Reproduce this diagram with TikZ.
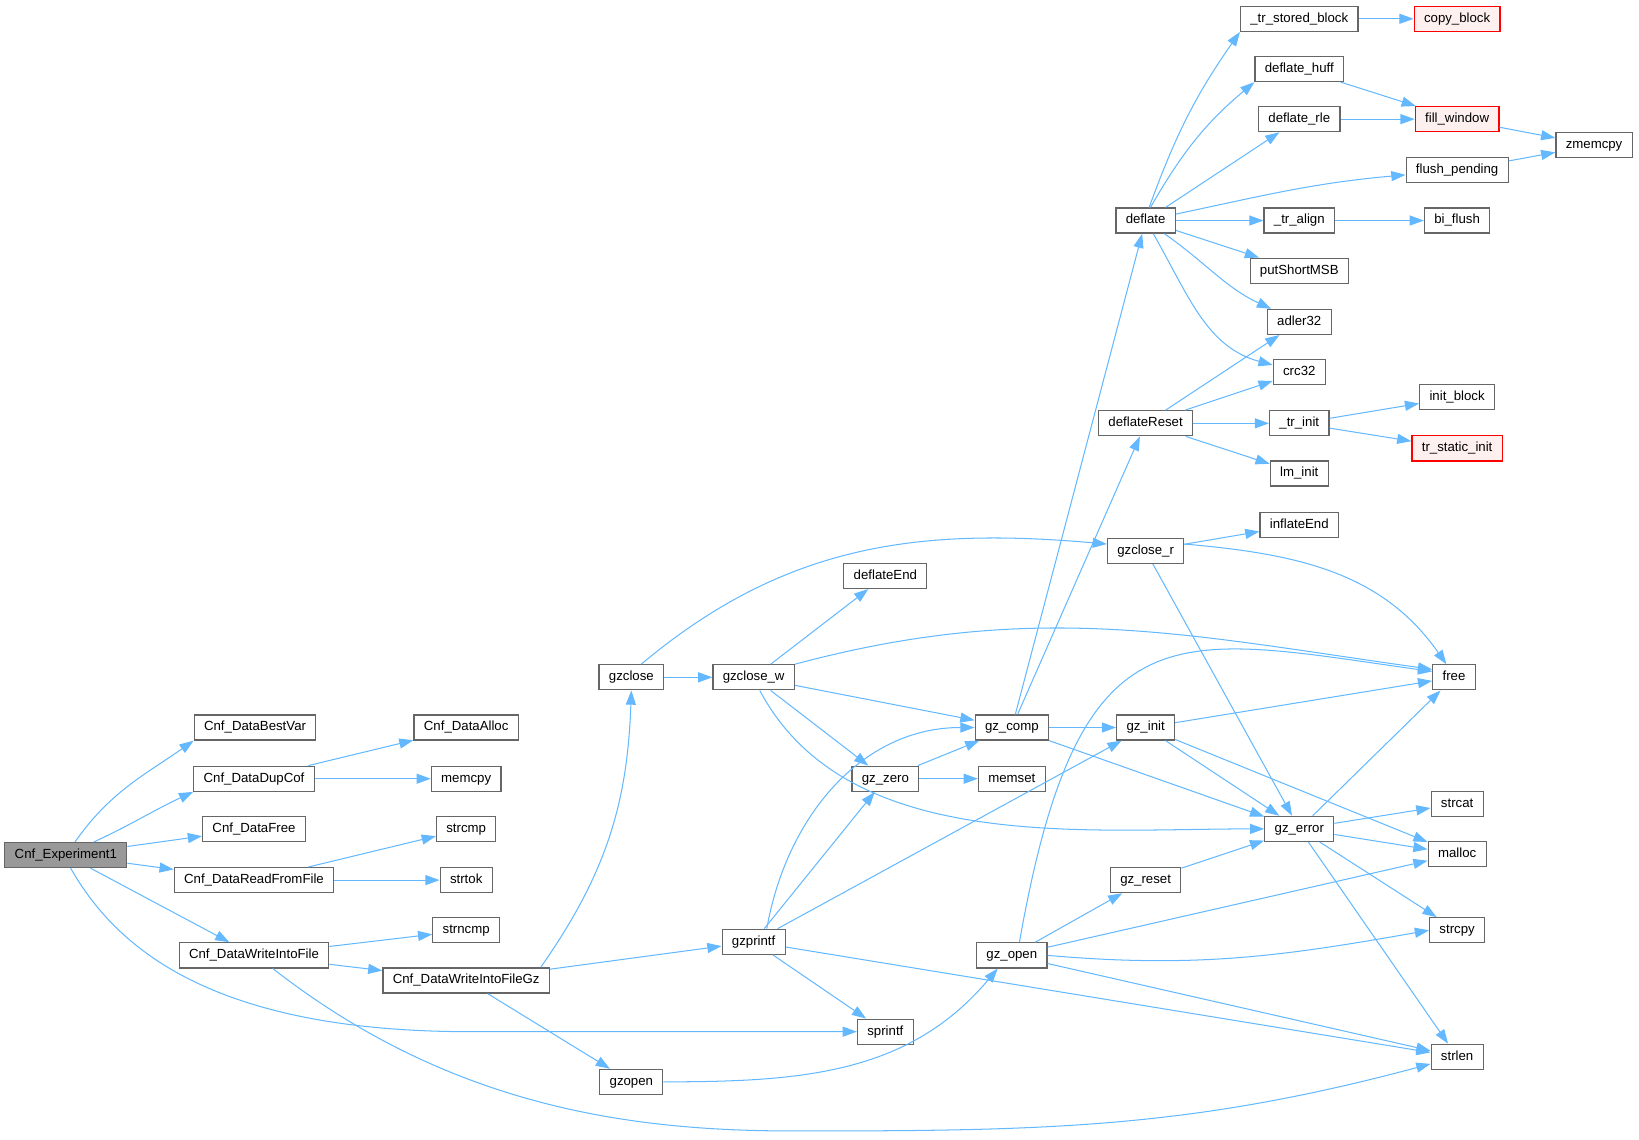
\documentclass[tikz,border=0pt]{standalone}
\usepackage{fontspec}
\setmainfont{Liberation Sans}
\usepackage{xcolor}
\usepackage{tikz}
\usetikzlibrary{arrows.meta,calc}
\definecolor{edgeblue}{HTML}{63B8FF}
\definecolor{boxgray}{HTML}{666666}
\definecolor{rootgray}{HTML}{999999}
\definecolor{redfill}{HTML}{FFF0F0}
\begin{document}
\begin{tikzpicture}[
  x=0.025cm,y=0.025cm,
  fnbox/.style  ={rectangle,draw=boxgray,fill=white,line width=0.8pt,
                  minimum height=0.6cm,inner xsep=6.7pt,inner ysep=0pt,
                  text height=6.6pt,text depth=1.9pt,font=\fontsize{9}{10}\selectfont},
  rootbox/.style={fnbox,fill=rootgray},
  redbox/.style ={fnbox,draw=red,fill=redfill},
  callarrow/.style={-{Triangle[length=3.4mm,width=2.4mm]},draw=edgeblue,line width=0.7pt},
]
\useasboundingbox (0,0) rectangle (1568,1090);
\node[rootbox] (exp1)     at (63,272)    {Cnf\_Experiment1};
\node[fnbox]   (bestvar)  at (244,394)   {Cnf\_DataBestVar};
\node[fnbox]   (dupcof)   at (243,345)   {Cnf\_DataDupCof};
\node[fnbox]   (dfree)    at (243,297)   {Cnf\_DataFree};
\node[fnbox]   (readff)   at (243,248)   {Cnf\_DataReadFromFile};
\node[fnbox]   (writeif)  at (243,176)   {Cnf\_DataWriteIntoFile};
\node[fnbox]   (dalloc)   at (446,394)   {Cnf\_DataAlloc};
\node[fnbox]   (memcpy)   at (446,345)   {memcpy};
\node[fnbox]   (strcmp)   at (446,297)   {strcmp};
\node[fnbox]   (strtok)   at (446,248)   {strtok};
\node[fnbox]   (strncmp)  at (446,200)   {strncmp};
\node[fnbox]   (writegz)  at (446,152)   {Cnf\_DataWriteIntoFileGz};
\node[fnbox]   (gzclose)  at (604,442)   {gzclose};
\node[fnbox]   (gzopen)   at (604,55)    {gzopen};
\node[fnbox]   (gzclosew) at (721,442)   {gzclose\_w};
\node[fnbox]   (gzprintf) at (721,189)   {gzprintf};
\node[fnbox]   (defend)   at (847,539)   {deflateEnd};
\node[fnbox]   (gzzero)   at (847,345)   {gz\_zero};
\node[fnbox]   (sprintf)  at (847,103)   {sprintf};
\node[fnbox]   (gzcomp)   at (968,394)   {gz\_comp};
\node[fnbox]   (memset)   at (968,345)   {memset};
\node[fnbox]   (gzopenr)  at (968,176)   {gz\_open};
\node[fnbox]   (deflate)  at (1096,879)  {deflate};
\node[fnbox]   (defreset) at (1096,685)  {deflateReset};
\node[fnbox]   (gzcloser) at (1096,563)  {gzclose\_r};
\node[fnbox]   (gzinit)   at (1096,394)  {gz\_init};
\node[fnbox]   (gzreset)  at (1096,248)  {gz\_reset};
\node[fnbox]   (trstored) at (1243,1072) {\_tr\_stored\_block};
\node[fnbox]   (defhuff)  at (1243,1024) {deflate\_huff};
\node[fnbox]   (defrle)   at (1243,976)  {deflate\_rle};
\node[fnbox]   (tralign)  at (1243,879)  {\_tr\_align};
\node[fnbox]   (putmsb)   at (1243,831)  {putShortMSB};
\node[fnbox]   (adler)    at (1243,782)  {adler32};
\node[fnbox]   (crc)      at (1243,734)  {crc32};
\node[fnbox]   (trinit)   at (1243,685)  {\_tr\_init};
\node[fnbox]   (lminit)   at (1243,637)  {lm\_init};
\node[fnbox]   (infend)   at (1243,588)  {inflateEnd};
\node[fnbox]   (gzerror)  at (1243,297)  {gz\_error};
\node[redbox]  (copyblk)  at (1394,1072) {copy\_block};
\node[redbox]  (fillwin)  at (1394,976)  {fill\_window};
\node[fnbox]   (flushp)   at (1394,927)  {flush\_pending};
\node[fnbox]   (biflush)  at (1394,879)  {bi\_flush};
\node[fnbox]   (initblk)  at (1394,710)  {init\_block};
\node[redbox]  (trstatic) at (1394,661)  {tr\_static\_init};
\node[fnbox]   (free)     at (1391,442)  {free};
\node[fnbox]   (strcat)   at (1394,321)  {strcat};
\node[fnbox]   (malloc)   at (1394,273)  {malloc};
\node[fnbox]   (strcpy)   at (1394,200)  {strcpy};
\node[fnbox]   (strlen)   at (1394,79)   {strlen};
\node[fnbox]   (zmemcpy)  at (1525,951)  {zmemcpy};
\draw[callarrow](exp1.55) to[out=55,in=215] (bestvar.south west);
\draw[callarrow](exp1.25) to[out=25,in=205] (dupcof.south west);
\draw[callarrow](exp1)--(dfree);
\draw[callarrow](exp1)--(readff);
\draw[callarrow](exp1)--(writeif);
\draw[callarrow](exp1.-70) .. controls (110,185) and (200,103) .. (450,103) -- (sprintf.west);
\draw[callarrow](dupcof)--(dalloc);
\draw[callarrow](dupcof)--(memcpy);
\draw[callarrow](readff)--(strcmp);
\draw[callarrow](readff)--(strtok);
\draw[callarrow](writeif)--(strncmp);
\draw[callarrow](writeif)--(writegz);
\draw[callarrow](writeif.-35) to[out=-38,in=180,out distance=156pt,in distance=107pt] (760,8)
                 to[out=0,in=195] (strlen.195);
\draw[callarrow](writegz.10) to[out=55,in=-92] (gzclose.south);
\draw[callarrow](writegz)--(gzprintf);
\draw[callarrow](writegz)--(gzopen);
\draw[callarrow](gzclose)--(gzclosew);
\draw[callarrow](gzclose.53) to[out=40,in=175] (gzcloser.170);
\draw[callarrow](gzclosew)--(defend);
\draw[callarrow](gzclosew.north east) to[out=15,in=172] (free.160);
\draw[callarrow](gzclosew)--(gzcomp);
\draw[callarrow](gzclosew)--(gzzero);
\draw[callarrow](gzclosew.-65) to[out=-62,in=180,looseness=0.9] (gzerror.west);
\draw[callarrow](gzprintf.45) to[out=80,in=180] (gzcomp.west);
\draw[callarrow](gzprintf)--(gzzero);
\draw[callarrow](gzprintf)--(gzinit);
\draw[callarrow](gzprintf)--(sprintf);
\draw[callarrow](gzprintf)--(strlen);
\draw[callarrow](gzopen.east) to[out=0,in=-130] (gzopenr.-137);
\draw[callarrow](gzzero)--(gzcomp);
\draw[callarrow](gzzero)--(memset);
\draw[callarrow](gzcomp)--(deflate);
\draw[callarrow](gzcomp)--(defreset);
\draw[callarrow](gzcomp)--(gzinit);
\draw[callarrow](gzcomp)--(gzerror);
\draw[callarrow](gzopenr.60) to[out=80,in=172,out distance=235pt,in distance=178pt] (free.165);
\draw[callarrow](gzopenr)--(gzreset);
\draw[callarrow](gzopenr)--(malloc);
\draw[callarrow](gzopenr.east) to[out=-5,in=190] (strcpy.west);
\draw[callarrow](gzopenr)--(strlen);
\draw[callarrow](gzinit)--(free);
\draw[callarrow](gzinit)--(gzerror);
\draw[callarrow](gzinit)--(malloc);
\draw[callarrow](gzreset)--(gzerror);
\draw[callarrow](gzcloser)--(infend);
\draw[callarrow](gzcloser.10) to[out=-5,in=125] (free.120);
\draw[callarrow](gzcloser)--(gzerror);
\draw[callarrow](deflate.75) to[out=70,in=235] (trstored.south west);
\draw[callarrow](deflate.70) to[out=60,in=220] (defhuff.south west);
\draw[callarrow](deflate)--(defrle);
\draw[callarrow](deflate) to[out=12,in=185] (flushp);
\draw[callarrow](deflate)--(tralign);
\draw[callarrow](deflate)--(putmsb);
\draw[callarrow](deflate) to[out=-35,in=155] (adler);
\draw[callarrow](deflate) to[out=-60,in=165] (crc);
\draw[callarrow](defreset)--(adler);
\draw[callarrow](defreset)--(crc);
\draw[callarrow](defreset)--(trinit);
\draw[callarrow](defreset)--(lminit);
\draw[callarrow](trstored)--(copyblk);
\draw[callarrow](defhuff)--(fillwin);
\draw[callarrow](defrle)--(fillwin);
\draw[callarrow](fillwin)--(zmemcpy);
\draw[callarrow](flushp)--(zmemcpy);
\draw[callarrow](tralign)--(biflush);
\draw[callarrow](trinit)--(initblk);
\draw[callarrow](trinit)--(trstatic);
\draw[callarrow](gzerror)--(free);
\draw[callarrow](gzerror)--(strcat);
\draw[callarrow](gzerror)--(malloc);
\draw[callarrow](gzerror)--(strcpy);
\draw[callarrow](gzerror)--(strlen);
\end{tikzpicture}
\end{document}
